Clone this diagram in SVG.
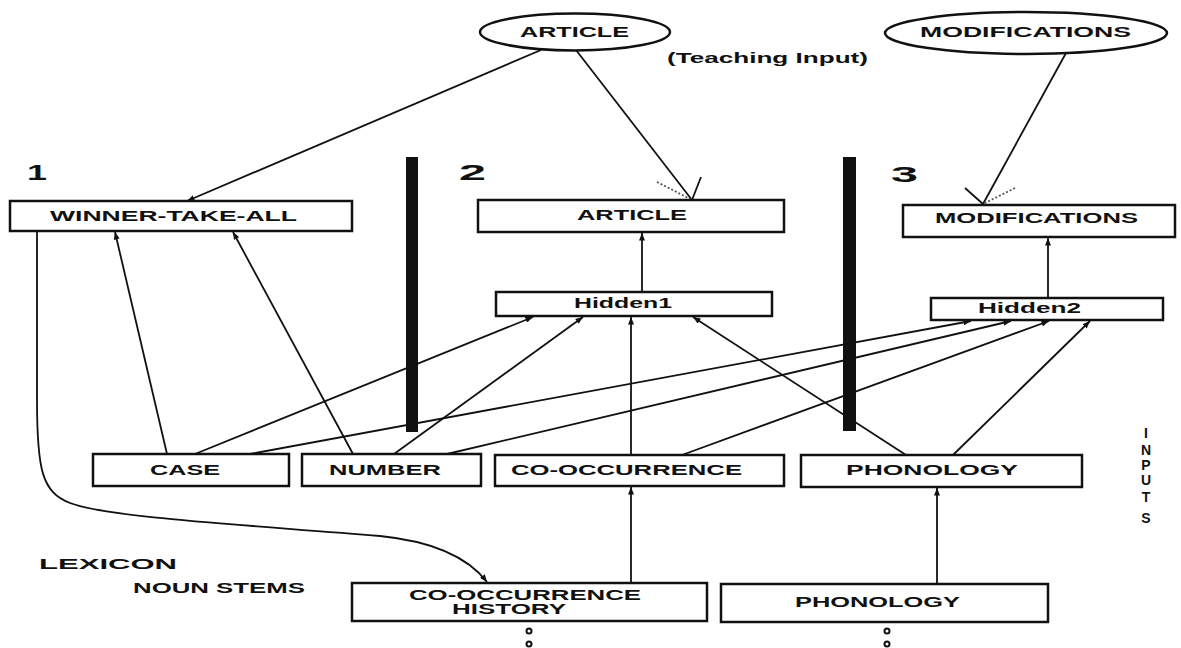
<svg xmlns="http://www.w3.org/2000/svg" width="1181" height="648" viewBox="0 0 1181 648">
<style>
  .bg { fill: #ffffff; }
  .box { fill: #ffffff; stroke: #111; stroke-width: 2.5; }
  .ell { fill: #ffffff; stroke: #111; stroke-width: 2.5; }
  .bar { fill: #111; }
  .lbl { font-family: "Liberation Sans", Arial, sans-serif; font-weight: bold; font-size: 14px; fill: #111; }
  .num { font-family: "Liberation Sans", Arial, sans-serif; font-weight: bold; font-size: 22px; fill: #111; }
  .conn line, .conn path { stroke: #111; stroke-width: 1.8; fill: none; }
  .conn .dash { stroke-dasharray: 2 2; stroke: #555; }
  .dot { fill: none; stroke: #111; stroke-width: 2; }
</style>
<defs>
  <marker id="ah" viewBox="0 0 10 8" refX="10" refY="4" markerWidth="8" markerHeight="6" markerUnits="userSpaceOnUse" orient="auto">
    <path d="M0,0 L10,4 L0,8 z" fill="#111"/>
  </marker>
</defs>
<rect class="bg" x="0" y="0" width="1181" height="648"/>

<g id="dividers">
  <rect class="bar" x="406" y="157" width="12" height="275"/>
  <rect class="bar" x="843" y="157" width="13" height="274"/>
</g>

<g id="section-numbers">
  <text class="num" x="27" y="180" textLength="20" lengthAdjust="spacingAndGlyphs">1</text>
  <text class="num" x="459" y="180" textLength="27" lengthAdjust="spacingAndGlyphs">2</text>
  <text class="num" x="891" y="182" textLength="27" lengthAdjust="spacingAndGlyphs">3</text>
</g>

<g class="conn" id="connectors">
  <line x1="541" y1="50" x2="187" y2="201" marker-end="url(#ah)"/>
  <line x1="576" y1="50" x2="692" y2="200"/>
  <line class="dash" x1="657" y1="182" x2="692" y2="200"/>
  <line x1="701" y1="177" x2="692" y2="200"/>
  <line x1="1066" y1="53" x2="983" y2="204"/>
  <line x1="965" y1="188" x2="983" y2="204"/>
  <line class="dash" x1="1015" y1="188" x2="983" y2="204"/>
  <line x1="642" y1="292" x2="642" y2="233" marker-end="url(#ah)"/>
  <line x1="1048" y1="298" x2="1048" y2="238" marker-end="url(#ah)"/>
  <line x1="167" y1="454" x2="115" y2="232" marker-end="url(#ah)"/>
  <line x1="353" y1="454" x2="233" y2="232" marker-end="url(#ah)"/>
  <line x1="195" y1="454" x2="533" y2="317" marker-end="url(#ah)"/>
  <line x1="250" y1="454" x2="971" y2="321" marker-end="url(#ah)"/>
  <line x1="394" y1="454" x2="583" y2="317" marker-end="url(#ah)"/>
  <line x1="447" y1="454" x2="1011" y2="321" marker-end="url(#ah)"/>
  <line x1="631" y1="455" x2="631" y2="317" marker-end="url(#ah)"/>
  <line x1="682" y1="455" x2="1049" y2="321" marker-end="url(#ah)"/>
  <line x1="906" y1="455" x2="693" y2="317" marker-end="url(#ah)"/>
  <line x1="953" y1="455" x2="1090" y2="321" marker-end="url(#ah)"/>
  <line x1="631" y1="583" x2="631" y2="487" marker-end="url(#ah)"/>
  <line x1="937" y1="584" x2="937" y2="488" marker-end="url(#ah)"/>
  <path d="M37,231 L37,400 C37,470 42,492 70,503 C110,518 250,525 380,536 C440,542 470,560 487,582" marker-end="url(#ah)"/>
</g>

<g id="article-teacher">
  <ellipse class="ell" cx="575" cy="32" rx="95" ry="18.5"/>
  <text class="lbl" x="520" y="37" textLength="109" lengthAdjust="spacingAndGlyphs">ARTICLE</text>
</g>
<g id="teaching-input">
  <text class="lbl" x="667" y="63" font-size="13" textLength="201" lengthAdjust="spacingAndGlyphs">(Teaching  Input)</text>
</g>
<g id="modifications-teacher">
  <ellipse class="ell" cx="1026" cy="33" rx="141" ry="21"/>
  <text class="lbl" x="920" y="37" textLength="211" lengthAdjust="spacingAndGlyphs">MODIFICATIONS</text>
</g>

<g id="winner-take-all">
  <rect class="box" x="10" y="201" width="342" height="30"/>
  <text class="lbl" x="50" y="221" textLength="247" lengthAdjust="spacingAndGlyphs">WINNER-TAKE-ALL</text>
</g>
<g id="article-out">
  <rect class="box" x="478" y="200" width="306" height="32"/>
  <text class="lbl" x="577" y="220" textLength="110" lengthAdjust="spacingAndGlyphs">ARTICLE</text>
</g>
<g id="modifications-out">
  <rect class="box" x="903" y="205" width="272" height="32"/>
  <text class="lbl" x="935" y="223" textLength="203" lengthAdjust="spacingAndGlyphs">MODIFICATIONS</text>
</g>

<g id="hidden1">
  <rect class="box" x="496" y="292" width="276" height="24"/>
  <text class="lbl" x="574" y="308" textLength="98" lengthAdjust="spacingAndGlyphs">Hidden1</text>
</g>
<g id="hidden2">
  <rect class="box" x="931" y="298" width="232" height="22"/>
  <text class="lbl" x="978" y="313" textLength="103" lengthAdjust="spacingAndGlyphs">Hidden2</text>
</g>

<g id="case">
  <rect class="box" x="93" y="454" width="196" height="32"/>
  <text class="lbl" x="150" y="475" textLength="70" lengthAdjust="spacingAndGlyphs">CASE</text>
</g>
<g id="number">
  <rect class="box" x="302" y="454" width="179" height="32"/>
  <text class="lbl" x="329" y="475" textLength="112" lengthAdjust="spacingAndGlyphs">NUMBER</text>
</g>
<g id="co-occurrence">
  <rect class="box" x="495" y="455" width="289" height="31"/>
  <text class="lbl" x="511" y="475" textLength="231" lengthAdjust="spacingAndGlyphs">CO-OCCURRENCE</text>
</g>
<g id="phonology-in">
  <rect class="box" x="801" y="455" width="281" height="32"/>
  <text class="lbl" x="846" y="475" textLength="172" lengthAdjust="spacingAndGlyphs">PHONOLOGY</text>
</g>

<g id="inputs-label">
  <text class="lbl" x="1146" y="438" font-size="15" text-anchor="middle">I</text>
  <text class="lbl" x="1146" y="455" font-size="15" text-anchor="middle">N</text>
  <text class="lbl" x="1146" y="470" font-size="15" text-anchor="middle">P</text>
  <text class="lbl" x="1146" y="485" font-size="15" text-anchor="middle">U</text>
  <text class="lbl" x="1146" y="502" font-size="15" text-anchor="middle">T</text>
  <text class="lbl" x="1146" y="523" font-size="15" text-anchor="middle">S</text>
</g>

<g id="lexicon">
  <text class="lbl" x="39" y="569" font-size="18" textLength="138" lengthAdjust="spacingAndGlyphs">LEXICON</text>
  <text class="lbl" x="133" y="593" font-size="13" textLength="172" lengthAdjust="spacingAndGlyphs">NOUN STEMS</text>
</g>

<g id="co-occurrence-history">
  <rect class="box" x="352" y="583" width="355" height="38"/>
  <text class="lbl" x="409" y="600" font-size="12.5" textLength="232" lengthAdjust="spacingAndGlyphs">CO-OCCURRENCE</text>
  <text class="lbl" x="452" y="614" font-size="12.5" textLength="114" lengthAdjust="spacingAndGlyphs">HISTORY</text>
  <circle class="dot" cx="529" cy="631" r="2.5"/>
  <circle class="dot" cx="529" cy="644" r="2.5"/>
</g>
<g id="phonology-lex">
  <rect class="box" x="721" y="584" width="327" height="38"/>
  <text class="lbl" x="795" y="607" textLength="165" lengthAdjust="spacingAndGlyphs">PHONOLOGY</text>
  <circle class="dot" cx="887" cy="631" r="2.5"/>
  <circle class="dot" cx="887" cy="644" r="2.5"/>
</g>
</svg>
